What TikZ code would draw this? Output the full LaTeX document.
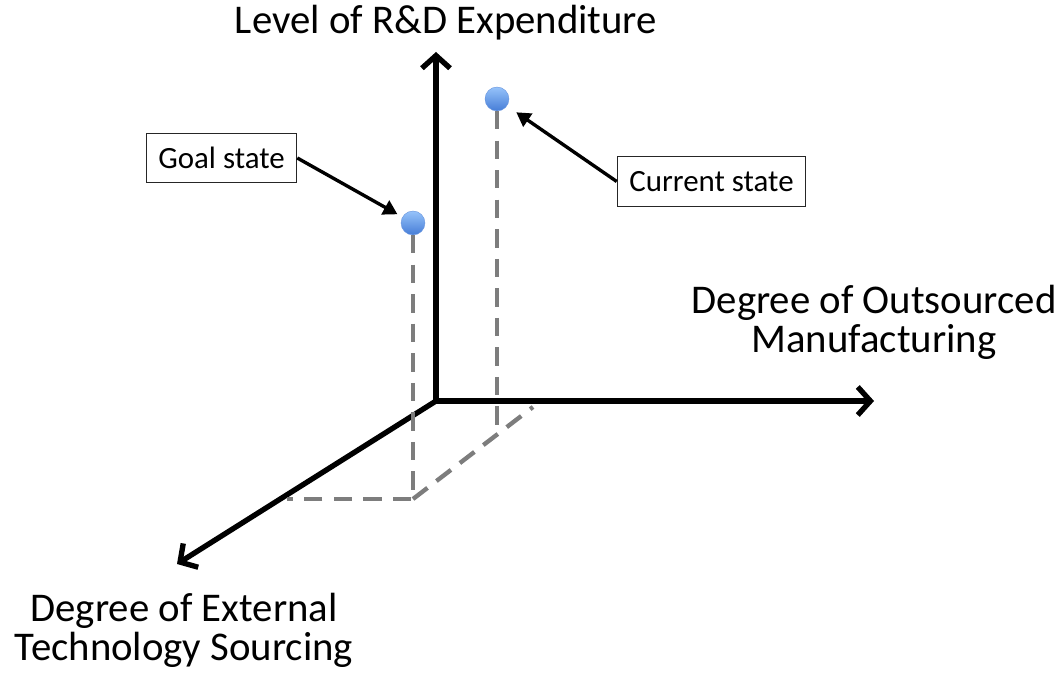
\documentclass[tikz,border=0pt]{standalone}
\usepackage{fontspec}
\setmainfont{Carlito}
\usetikzlibrary{arrows.meta, positioning}
\definecolor{dotlight}{RGB}{150,195,250}
\definecolor{dotdark}{RGB}{70,125,215}
\definecolor{guidegray}{RGB}{125,125,125}
\tikzset{
  axis/.style={line width=3.8pt, -{Straight Barb[length=9pt, width=20pt, line width=3.8pt]}},
  guide/.style={draw=guidegray, line width=3.1pt, dash pattern=on 13pt off 8pt},
  statebox/.style={draw=black!85, line width=0.8pt, fill=white, minimum height=35pt,
    font=\fontsize{22}{26}\selectfont},
  pointer/.style={line width=2.4pt, -{Triangle[length=10pt, width=11pt]}},
  statedot/.style={circle, minimum size=17pt, inner sep=0pt, draw=dotdark!80, line width=0.3pt,
    top color=dotlight, bottom color=dotdark},
  axislabel/.style={align=center, font=\fontsize{29}{27.6}\selectfont}
}
\begin{document}
\begin{tikzpicture}[x=0.025cm, y=-0.025cm]
  \useasboundingbox (0,0) rectangle (1061,674);

  % axes
  \coordinate (origin) at (436,401);
  \coordinate (uptip) at (436,52);
  \coordinate (righttip) at (874,401);
  \coordinate (fronttip) at (177,564);
  \draw[axis] (origin) -- (uptip);
  \draw[axis] (origin) -- (righttip);
  \draw[axis] (origin) -- (fronttip);

  % states
  \node[statedot] (goal) at (413,223) {};
  \node[statedot] (current) at (497,99) {};

  % projections onto the floor
  \coordinate (goalfoot) at (413,499);
  \coordinate (goalside) at (287,499);
  \coordinate (currentfoot) at (497,435);
  \coordinate (floorend) at (533,407);
  \draw[guide] (goal.south) -- (goalfoot) -- (goalside);
  \draw[guide] (goalfoot) -- (floorend);
  \draw[guide] (current.south) -- (currentfoot);

  % axis labels
  \node[axislabel] (uplabel) at (446,23) {Level of R\&D Expenditure};
  \node[axislabel] (rightlabel) at (874,322) {Degree of Outsourced\\Manufacturing};
  \node[axislabel] (frontlabel) at (184,630) {Degree of External\\Technology Sourcing};

  % callouts
  \node[statebox, minimum width=107pt] (goalbox) at (221.5,158) {Goal state};
  \node[statebox, minimum width=134pt] (currentbox) at (711.5,181.5) {Current state};
  \draw[pointer, shorten >=4pt] (goalbox.east) -- (goal);
  \draw[pointer, shorten >=8pt] (currentbox.west) -- (current);
\end{tikzpicture}
\end{document}
